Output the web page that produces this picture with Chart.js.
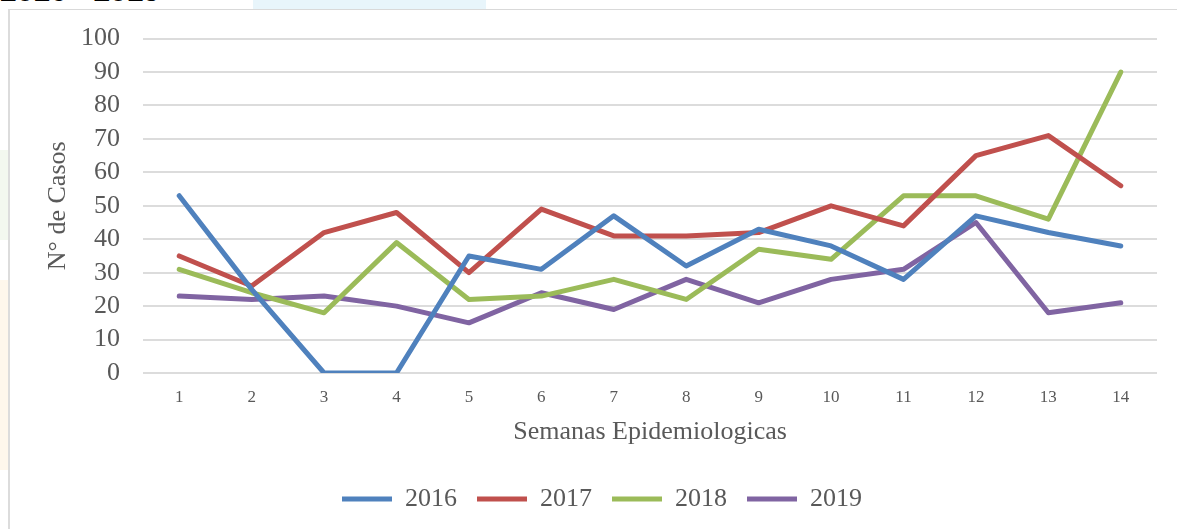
<!DOCTYPE html>
<html>
<head>
<meta charset="utf-8">
<script src="https://cdn.jsdelivr.net/npm/chart.js@4/dist/chart.umd.min.js"></script>
<style>
  html, body { margin: 0; padding: 0; background: #fff; overflow: hidden; }
  #page { position: relative; width: 1177px; height: 529px; overflow: hidden; }
  #doctitle { position: absolute; left: 0; top: -26px; font: bold 30px "Liberation Sans", Arial, sans-serif; color: #000; white-space: nowrap; }
  #tab { position: absolute; left: 253px; top: 0; width: 233px; height: 9px; background: #e8f5fb; }
  .wm { position: absolute; left: 0; width: 8px; }
  #frame { position: absolute; left: 8px; top: 9px; width: 1400px; height: 700px; border-left: 2px solid #dcdcdc; border-top: 1px solid #d9d9d9; }
  #wrap { position: absolute; left: 0; top: 0; width: 1177px; height: 529px; }
</style>
</head>
<body>
<div id="page">
  <div id="doctitle">2016 - 2019</div>
  <div id="tab"></div>
  <div class="wm" style="top:150px;height:90px;background:#f3f8ef;"></div>
  <div class="wm" style="top:280px;height:190px;background:#fef7ec;"></div>
  <div id="frame"></div>
  <div id="wrap"><canvas id="chart"></canvas></div>
</div>
<script>
const weeks = ['1','2','3','4','5','6','7','8','9','10','11','12','13','14'];
const cases2016 = [53, 25, 0, 0, 35, 31, 47, 32, 43, 38, 28, 47, 42, 38];
const cases2017 = [35, 26, 42, 48, 30, 49, 41, 41, 42, 50, 44, 65, 71, 56];
const cases2018 = [31, 24, 18, 39, 22, 23, 28, 22, 37, 34, 53, 53, 46, 90];
const cases2019 = [23, 22, 23, 20, 15, 24, 19, 28, 21, 28, 31, 45, 18, 21];

const serif = '"Liberation Serif", "DejaVu Serif", serif';
const grey = '#595959';

function series(label, data, color) {
    return {
        label: label,
        data: data,
        borderColor: color,
        backgroundColor: color,
        borderWidth: 5,
        borderCapStyle: 'round',
        borderJoinStyle: 'round',
        pointRadius: 0,
        pointHoverRadius: 0,
        pointStyle: 'line',
        tension: 0,
        fill: false
    };
}

new Chart(document.getElementById('chart'), {
    type: 'line',
    data: {
        labels: weeks,
        datasets: [
            series('2016', cases2016, '#4f81bd'),
            series('2017', cases2017, '#c0504d'),
            series('2018', cases2018, '#9bbb59'),
            series('2019', cases2019, '#8064a2')
        ]
    },
    options: {
        responsive: true,
        maintainAspectRatio: false,
        animation: false,
        // left padding shifts the bottom legend to the right like the original
        layout: { padding: { top: 38, right: 20, left: 47, bottom: 7 } },
        scales: {
            x: {
                offset: true,
                grid: { display: false },
                border: { display: false },
                ticks: { color: grey, font: { family: serif, size: 17 }, padding: 6, maxRotation: 0 },
                title: { display: true, text: 'Semanas Epidemiologicas', color: grey, font: { family: serif, size: 26 }, padding: { top: 0, bottom: 18 } },
                afterFit: (s) => { s.height = 93; }
            },
            y: {
                min: 0,
                max: 100,
                grid: { color: '#dcdcdc', lineWidth: 2, drawTicks: false },
                border: { display: false },
                ticks: { stepSize: 10, autoSkip: false, color: grey, font: { family: serif, size: 26 }, padding: 23 },
                title: { display: true, text: 'N° de Casos', color: grey, font: { family: serif, size: 26 }, padding: { top: -4, bottom: 0 } },
                afterFit: (s) => { s.width = 96; }
            }
        },
        plugins: {
            legend: {
                position: 'bottom',
                labels: {
                    usePointStyle: true,
                    pointStyleWidth: 50,
                    boxWidth: 50,
                    boxHeight: 10,
                    padding: 20,
                    color: grey,
                    font: { family: serif, size: 26 }
                }
            },
            tooltip: { enabled: false }
        }
    }
});
</script>
</body>
</html>
